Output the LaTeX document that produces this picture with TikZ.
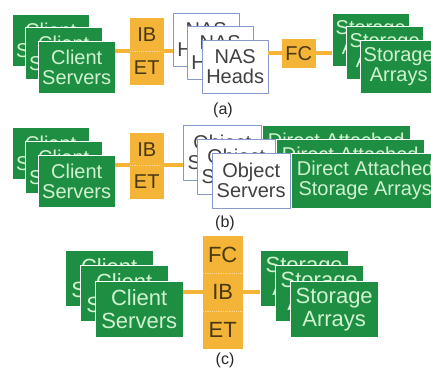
\documentclass[tikz,border=0pt]{standalone}
\usepackage{fontspec}
\setmainfont{Liberation Sans}
\definecolor{grnbox}{RGB}{30,143,66}
\definecolor{grntxt}{RGB}{208,242,208}
\definecolor{orgbox}{RGB}{244,180,56}
\definecolor{orgtxt}{RGB}{72,56,20}
\definecolor{nasline}{RGB}{135,152,205}
\begin{document}
\begin{tikzpicture}
[x=1pt, y=-1pt, line join=round,
 box/.style={anchor=north west, inner sep=0pt, align=center, font=\fontsize{20}{20}\selectfont},
 grn/.style={box, fill=grnbox, draw=white, text=grntxt, minimum width=77pt, minimum height=52pt},
 wht/.style={box, fill=white, draw=nasline, text=black!75, minimum width=66pt, minimum height=53pt},
 org/.style={box, fill=orgbox, draw=orgbox, text=orgtxt, minimum width=33pt, minimum height=33pt},
 big/.style={minimum width=88pt, minimum height=56pt, font=\fontsize{22}{23}\selectfont},
 divide/.style={white!45!orgbox, densely dotted, line width=1.2pt},
 link/.style={orgbox, line width=4pt},
 lbl/.style={font=\fontsize{16}{18}\selectfont, text=black!85}]
\useasboundingbox (0,0) rectangle (431,369);
\clip (0,0) rectangle (431,369);
% (a) NAS
\foreach \i/\x/\y in {1/12/14,2/25/27,3/38/41}
\node[grn] (ca\i) at (\x,\y) {Client\\Servers};
\node[org] (iba) at (130,18) {IB};
\node[org] (eta) at (130,51) {ET};
\draw[divide] (iba.south west) -- (iba.south east);
\foreach \i/\x/\y in {1/173/13,2/187/26,3/202/40}
\node[wht] (nas\i) at (\x,\y) {NAS\\Heads};
\node[org, minimum height=28pt] (fca) at (282,39) {FC};
\foreach \i/\x/\y in {1/332/13,2/346/26,3/360/40}
\node[grn, minimum height=53pt] (sa\i) at (\x,\y) {Storage\\Arrays};
\draw[link] (ca3.east |- iba.south) -- (iba.south west);
\draw[link] (iba.south east) -- (iba.south east -| nas1.west);
\draw[link] (nas3.east |- fca.west) -- (fca.west);
\draw[link] (fca.east) -- (fca.east -| sa1.west);
\node[lbl] (capa) at (223,110) {(a)};
% (b) object
\foreach \i/\x/\y in {1/12/127,2/25/141,3/38/155}
\node[grn] (cb\i) at (\x,\y) {Client\\Servers};
\node[org, minimum height=32pt] (ibb) at (130,133) {IB};
\node[org] (etb) at (130,165) {ET};
\draw[divide] (ibb.south west) -- (ibb.south east);
\foreach \i/\x/\y in {1/183/125,2/197/139,3/212/153}{
\node[wht, minimum width=78pt, minimum height=55pt] (os\i) at (\x,\y) {Object\\Servers};
\node[grn, minimum width=148pt, minimum height=55pt] (ds\i) at (\x+79,\y) {Direct Attached\\Storage Arrays};}
\draw[link] (cb3.east |- ibb.south) -- (ibb.south west);
\draw[link] (ibb.south east) -- (ibb.south east -| os1.west);
\node[lbl] (capb) at (225,223) {(b)};
% (c) direct
\foreach \i/\x/\y in {1/65/250,2/80/265,3/95/281}
\node[grn, big] (cc\i) at (\x,\y) {Client\\Servers};
\node[org, big, minimum width=39pt, minimum height=37pt] (fcc) at (203,236) {FC};
\node[org, big, minimum width=39pt, minimum height=38pt] (ibc) at (203,273) {IB};
\node[org, big, minimum width=39pt, minimum height=37pt] (etc) at (203,311) {ET};
\draw[divide] (fcc.south west) -- (fcc.south east);
\draw[divide] (ibc.south west) -- (ibc.south east);
\foreach \i/\x/\y in {1/260/250,2/275/265,3/290/281}
\node[grn, big] (sc\i) at (\x,\y) {Storage\\Arrays};
\draw[link] (cc3.east |- ibc.west) -- (ibc.west);
\draw[link] (ibc.east) -- (ibc.east -| sc1.west);
\node[lbl] (capc) at (225,360) {(c)};
\end{tikzpicture}
\end{document}
